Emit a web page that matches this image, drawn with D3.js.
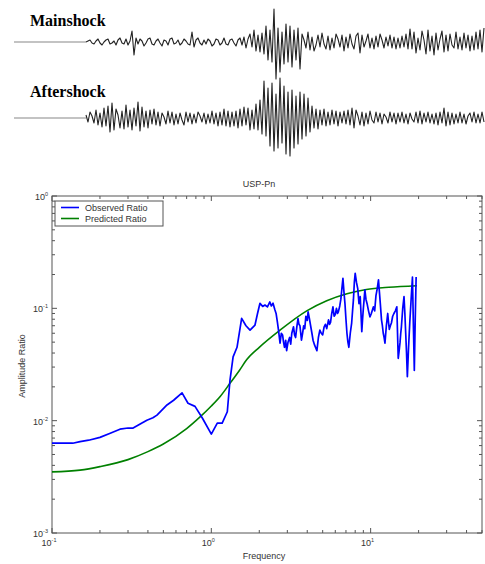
<!DOCTYPE html>
<html>
<head>
<meta charset="utf-8">
<script src="https://cdn.jsdelivr.net/npm/d3@7"></script>
<style>
  body { margin: 0; background: #fff; }
  svg { display: block; }
</style>
</head>
<body>
<div id="chart"></div>
<script>
// seismogram samples (amplitude, arbitrary counts), starting at the P onset
var mainshock = [0,1,2,-1,-2,1,3,-1,-3,0,2,3,-2,-1,1,-3,2,4,-1,-2,3,-3,1,
  11,-13,4,
  -2,3,1,-4,-1,3,4,-2,-3,1,3,-1,-4,2,1,-3,3,4,-2,-1,2,-3,-1,3,1,-2,-3,
  10,-5,
  2,4,-1,-3,2,-2,3,1,-4,-2,3,2,-3,-1,4,-2,-3,2,3,-1,-4,2,4,-3,5,
  -6,3,8,-5,12,-9,7,-10,9,-12,
  16,-18,12,-20,33,-37,14,-30,10,-22,18,-20,16,-25,12,-18,14,-27,
  8,2,-6,10,-8,5,-9,-3,7,-5,9,-2,-7,6,-8,4,-6,8,3,-5,7,-9,
  5,-6,8,-2,-7,6,9,-11,7,-5,1,8,-6,4,-7,6,-5,8,2,-6,5,-4,7,-6,5,-7,4,-6,
  6,-5,8,-7,13,-7,10,-11,4,-8,11,2,-12,12,-9,6,-13,9,-8,3,
  11,-10,7,-9,8,-3,-6,10,-7,5,-8,9,-6,7,-9,6,-8,10,-7,12,-10,14];

var aftershock = [3,-4,6,2,-5,8,-7,5,-9,10,-8,12,-14,15,-12,9,3,-10,7,-11,13,-9,8,-12,10,-8,16,-13,11,-9,7,-10,8,
  -6,9,-7,6,-8,5,1,-6,7,-5,6,-7,4,-6,5,-2,-7,6,-4,5,-6,4,-5,6,2,-4,5,-6,4,-5,7,-6,5,-8,6,
  -7,9,-8,7,-9,6,-8,7,-10,9,-8,11,-7,10,-12,
  8,-11,14,-12,18,-16,
  37,-18,30,-28,35,-33,24,-30,40,-25,32,-36,26,-38,28,-30,22,-26,26,-21,24,-18,
  20,-14,12,-10,9,-11,8,-7,9,-8,6,-7,8,-6,7,-8,6,-5,7,-6,8,-7,
  10,-10,8,2,-7,6,-8,5,-6,7,-2,-5,6,-4,5,-6,4,1,-5,6,-4,5,-6,5,-4,6,-5,4,-6,5,
  -1,-4,6,-5,7,-6,5,-4,6,-5,4,-6,5,-7,6,-5,10,-8,6,-7,5,-6,4,-5,6,-5,4,-6,2,5,-4,6,-5,4,-5,6,-4];

// spectral ratio: [frequency (Hz), amplitude ratio]
var observed = [[0.1,0.0063],[0.12,0.0063],[0.135,0.0063],[0.15,0.0065],[0.17,0.0067],[0.2,0.0071],[0.23,0.0077],
  [0.267,0.0084],[0.3,0.0086],[0.323,0.0086],[0.36,0.0094],[0.394,0.0101],[0.43,0.0106],[0.456,0.0112],[0.5,0.0128],
  [0.527,0.0138],[0.58,0.0152],[0.655,0.0177],[0.714,0.0143],[0.79,0.0134],[0.88,0.0105],[1.0,0.0076],[1.09,0.0095],
  [1.17,0.0095],[1.26,0.012],[1.31,0.023],[1.37,0.037],[1.45,0.045],[1.55,0.0814],[1.65,0.070],[1.75,0.064],
  [1.88,0.071],[1.95,0.09],[2.02,0.111],[2.1,0.104],[2.17,0.107],[2.25,0.103],[2.33,0.114],[2.38,0.105],[2.44,0.111],
  [2.5,0.098],[2.55,0.09],[2.6,0.075],[2.64,0.064],[2.7,0.049],[2.75,0.06],[2.8,0.058],[2.84,0.05],[2.88,0.045],
  [2.93,0.052],[2.97,0.042],[3.03,0.05],[3.1,0.055],[3.15,0.048],[3.2,0.06],[3.28,0.0685],[3.33,0.058],[3.38,0.055],
  [3.44,0.068],[3.5,0.081],[3.55,0.072],[3.6,0.07],[3.68,0.052],[3.74,0.06],[3.8,0.07],[3.86,0.066],[3.92,0.085],
  [4.0,0.078],[4.05,0.093],[4.12,0.082],[4.2,0.07],[4.28,0.06],[4.35,0.052],[4.45,0.047],[4.6,0.042],[4.7,0.055],
  [4.8,0.064],[4.9,0.06],[5.0,0.058],[5.1,0.068],[5.2,0.072],[5.3,0.066],[5.44,0.079],[5.52,0.072],[5.6,0.075],
  [5.7,0.09],[5.8,0.103],[5.9,0.085],[6.0,0.088],[6.1,0.1],[6.2,0.09],[6.27,0.093],[6.4,0.105],[6.5,0.12],
  [6.6,0.15],[6.7,0.185],[6.8,0.14],[6.9,0.11],[7.0,0.08],[7.1,0.06],[7.2,0.05],[7.3,0.045],[7.45,0.06],
  [7.6,0.074],[7.7,0.095],[7.8,0.12],[7.9,0.17],[8.0,0.205],[8.15,0.17],[8.3,0.15],[8.45,0.11],[8.6,0.127],
  [8.7,0.09],[8.8,0.062],[8.9,0.08],[9.0,0.1],[9.1,0.12],[9.2,0.146],[9.35,0.12],[9.5,0.11],[9.7,0.095],
  [9.9,0.084],[10.1,0.09],[10.4,0.103],[10.6,0.095],[10.8,0.13],[11.0,0.15],[11.2,0.179],[11.35,0.14],[11.5,0.11],
  [11.7,0.079],[11.85,0.07],[12.0,0.06],[12.15,0.055],[12.3,0.049],[12.55,0.07],[12.8,0.09],[12.95,0.075],
  [13.1,0.065],[13.3,0.07],[13.5,0.074],[13.75,0.085],[14.0,0.09],[14.3,0.095],[14.6,0.103],[14.75,0.06],
  [14.9,0.0359],[15.1,0.042],[15.3,0.05],[15.45,0.06],[15.6,0.0685],[15.9,0.1],[16.2,0.127],[16.4,0.09],
  [16.6,0.06],[16.8,0.04],[17.0,0.0246],[17.3,0.045],[17.6,0.074],[17.95,0.12],[18.3,0.19],[18.55,0.07],
  [18.8,0.028],[19.05,0.08],[19.3,0.19]];

var predicted = [[0.1,0.0035],[0.15,0.00363],[0.2,0.0039],[0.3,0.0045],[0.4,0.0053],[0.5,0.0062],[0.7,0.0085],
  [0.85,0.0108],[1.0,0.0135],[1.14,0.0165],[1.31,0.0215],[1.5,0.028],[1.67,0.035],[2.0,0.045],[2.7,0.064],
  [3.97,0.095],[5.3,0.117],[7.1,0.135],[9.4,0.147],[13,0.154],[19.5,0.159]];

var xDecades = [0.1, 1, 10];
var yDecades = [0.001, 0.01, 0.1, 1];
var decadeExp = {0.001: "-3", 0.01: "-2", 0.1: "-1", 1: "0", 10: "1"};
var seriesNames = ["Observed Ratio", "Predicted Ratio"];
var seriesColors = ["#0000ff", "#008000"];

function drawChart() {
  var W = 485, H = 564;
  var svg = d3.select("#chart").append("svg")
    .attr("width", W).attr("height", H);

  // ---- seismograms ----
  function drawTrace(samples, baseline, label, labelY) {
    var tx = d3.scaleLinear().domain([0, samples.length - 1]).range([86, 484]);
    var ty = d3.scaleLinear().domain([-40, 40]).range([baseline + 40, baseline - 40]);
    svg.append("line")
      .attr("x1", 14).attr("x2", tx(0))
      .attr("y1", ty(0)).attr("y2", ty(0))
      .attr("stroke", "#888").attr("stroke-width", 1.2);
    svg.append("path")
      .datum(samples)
      .attr("d", d3.line().x((d, i) => tx(i)).y(d => ty(d)))
      .attr("fill", "none")
      .attr("stroke", "#222")
      .attr("stroke-width", 1.1)
      .attr("stroke-linejoin", "round");
    svg.append("text")
      .attr("x", 30).attr("y", labelY)
      .attr("font-family", "Liberation Serif, Times New Roman, serif")
      .attr("font-weight", "bold")
      .attr("font-size", 16)
      .text(label);
  }
  drawTrace(mainshock, 42, "Mainshock", 26);
  drawTrace(aftershock, 118, "Aftershock", 97);

  // ---- spectral ratio plot ----
  var pLeft = 52, pRight = 482, pTop = 196, pBottom = 533;
  var x = d3.scaleLog().domain([0.1, 50]).range([pLeft, pRight]);
  var y = d3.scaleLog().domain([0.001, 1]).range([pBottom, pTop]);

  var font = "Liberation Sans, Arial, Helvetica, sans-serif";
  var axisColor = "#555";

  var plot = svg.append("g");

  // frame
  plot.append("rect")
    .attr("x", pLeft).attr("y", pTop)
    .attr("width", pRight - pLeft).attr("height", pBottom - pTop)
    .attr("fill", "none").attr("stroke", axisColor).attr("stroke-width", 1);

  // inward ticks on all four sides
  var xt = x.ticks(), yt = y.ticks();
  function isDecade(v) { return Math.abs(Math.log10(v) - Math.round(Math.log10(v))) < 1e-9; }

  xt.forEach(function(v) {
    var len = isDecade(v) ? 5 : 3;
    plot.append("line").attr("x1", x(v)).attr("x2", x(v)).attr("y1", pBottom).attr("y2", pBottom - len)
      .attr("stroke", axisColor);
    plot.append("line").attr("x1", x(v)).attr("x2", x(v)).attr("y1", pTop).attr("y2", pTop + len)
      .attr("stroke", axisColor);
  });
  yt.forEach(function(v) {
    var len = isDecade(v) ? 5 : 3;
    plot.append("line").attr("y1", y(v)).attr("y2", y(v)).attr("x1", pLeft).attr("x2", pLeft + len)
      .attr("stroke", axisColor);
    plot.append("line").attr("y1", y(v)).attr("y2", y(v)).attr("x1", pRight).attr("x2", pRight - len)
      .attr("stroke", axisColor);
  });

  // decade labels 10^n
  xDecades.forEach(function(v) {
    var t = plot.append("text")
      .attr("x", x(v) - 3).attr("y", pBottom + 13)
      .attr("text-anchor", "middle")
      .attr("font-family", font).attr("font-size", 9).attr("fill", "#333");
    t.append("tspan").text("10");
    t.append("tspan").attr("dy", -4).attr("font-size", 5.5).text(decadeExp[v]);
  });
  yDecades.forEach(function(v) {
    var t = plot.append("text")
      .attr("x", pLeft - 4).attr("y", y(v) + 4)
      .attr("text-anchor", "end")
      .attr("font-family", font).attr("font-size", 9).attr("fill", "#333");
    t.append("tspan").text("10");
    t.append("tspan").attr("dy", -4).attr("font-size", 5.5).text(decadeExp[v]);
  });

  // title and axis labels
  plot.append("text")
    .attr("x", 259).attr("y", 187)
    .attr("text-anchor", "middle")
    .attr("font-family", font).attr("font-size", 9).attr("fill", "#333")
    .text("USP-Pn");
  plot.append("text")
    .attr("x", 264).attr("y", 559)
    .attr("text-anchor", "middle")
    .attr("font-family", font).attr("font-size", 9).attr("fill", "#333")
    .text("Frequency");
  plot.append("text")
    .attr("transform", "translate(25,366) rotate(-90)")
    .attr("text-anchor", "middle")
    .attr("font-family", font).attr("font-size", 9).attr("fill", "#333")
    .text("Amplitude Ratio");

  // curves
  plot.append("path")
    .datum(predicted)
    .attr("d", d3.line().x(d => x(d[0])).y(d => y(d[1])).curve(d3.curveMonotoneX))
    .attr("fill", "none").attr("stroke", seriesColors[1]).attr("stroke-width", 1.6);

  plot.append("path")
    .datum(observed)
    .attr("d", d3.line().x(d => x(d[0])).y(d => y(d[1])))
    .attr("fill", "none").attr("stroke", seriesColors[0]).attr("stroke-width", 1.7)
    .attr("stroke-linejoin", "round");

  // legend
  var legend = plot.append("g").attr("transform", "translate(55,201)");
  legend.append("rect")
    .attr("width", 108).attr("height", 25)
    .attr("fill", "#fff").attr("stroke", axisColor);
  seriesNames.forEach(function(name, i) {
    var ly = 6.5 + i * 11;
    legend.append("line")
      .attr("x1", 6).attr("x2", 24).attr("y1", ly).attr("y2", ly)
      .attr("stroke", seriesColors[i]).attr("stroke-width", 1.6);
    legend.append("text")
      .attr("x", 30).attr("y", ly + 3.2)
      .attr("font-family", font).attr("font-size", 9).attr("fill", "#333")
      .text(name);
  });
}
drawChart();
</script>
</body>
</html>
